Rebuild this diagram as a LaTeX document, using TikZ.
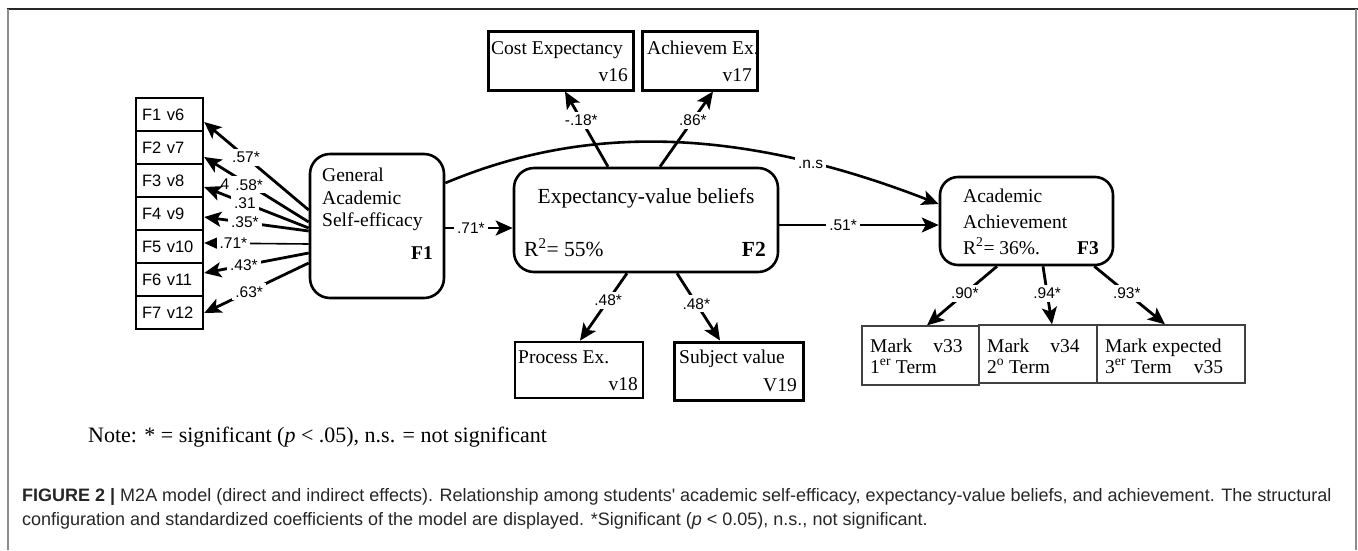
\documentclass[tikz,border=0pt]{standalone}
\usepackage{fontspec}
\setmainfont{Liberation Serif}
\newfontfamily\lsans{Liberation Sans}
\usetikzlibrary{arrows.meta}
\tikzset{
  fr/.style={draw, line width=2.6pt, inner sep=0pt},
  rbox/.style={fr, rounded corners=20pt},
  obox/.style={fr, line width=3pt},
  ibox/.style={draw, line width=2.4pt, minimum width=67pt, minimum height=33pt, inner sep=0pt, text width=55pt, align=left, font=\lsans\fontsize{16.5}{19}\selectfont},
  mbox/.style={draw=black!75, line width=1.3pt, inner sep=0pt},
  ser/.style={font=\fontsize{19.5}{22}\selectfont, inner sep=0pt},
  serl/.style={ser, anchor=base west},
  serr/.style={ser, anchor=base east},
  big/.style={font=\fontsize{21.5}{25}\selectfont, inner sep=0pt},
  coef/.style={font=\lsans\fontsize{15.5}{18}\selectfont, fill=white, inner sep=3pt, text height=11pt, text depth=0pt},
  arr/.style={line width=2.8pt, -{Stealth[length=17pt,width=15pt,inset=4pt]}},
}
\begin{document}
\begin{tikzpicture}[x=1pt,y=-1pt]
\useasboundingbox (0,0) rectangle (1358,550);
% frame
\draw[line width=1.5pt, black!85] (7,9) -- (1358,9);
\draw[line width=2pt, black!45] (8,9) -- (8,550);
\draw[line width=2pt, black!45] (1356,9) -- (1356,550);

% indicator boxes
\node[ibox] (i1) at (169.5,114.5) {F1 v6};
\node[ibox] (i2) at (169.5,147.5) {F2 v7};
\node[ibox] (i3) at (169.5,180.5) {F3 v8};
\node[ibox] (i4) at (169.5,213.5) {F4 v9};
\node[ibox] (i5) at (169.5,246.5) {F5 v10};
\node[ibox] (i6) at (169.5,279.5) {F6 v11};
\node[ibox] (i7) at (169.5,312.5) {F7 v12};

% latent boxes
\node[rbox, minimum width=134pt, minimum height=144pt] (gase) at (377,226) {};
\node[rbox, minimum width=264pt, minimum height=104pt] (f2) at (646,220) {};
\node[rbox, minimum width=173pt, minimum height=88pt, rounded corners=18pt] (f3) at (1026.5,221) {};

% observed boxes
\node[obox, minimum width=145pt, minimum height=59pt] (cost) at (560.5,60.5) {};
\node[obox, minimum width=115pt, minimum height=59pt] (ach) at (699.5,60.5) {};
\node[fr, minimum width=128pt, minimum height=56pt] (proc) at (579,370) {};
\node[obox, minimum width=129pt, minimum height=58pt] (subj) at (738.5,371) {};
\node[mbox, minimum width=117pt, minimum height=59pt] (m1) at (920.5,355.5) {};
\node[mbox, minimum width=118pt, minimum height=58pt] (m2) at (1038,354) {};
\node[mbox, minimum width=148pt, minimum height=58pt] (m3) at (1171,354) {};

% texts
\node[serl] (g1) at (322,181.5) {General};
\node[serl] (g2) at (322,204.5) {Academic};
\node[serl] (g3) at (322,226.5) {Self-efficacy};
\node[serr] (g4) at (433,259.5) {\textbf{F1}};
\node[big, anchor=base] (e1) at (646,203.5) {Expectancy-value beliefs};
\node[big, anchor=base west] (e2) at (524,256) {R\textsuperscript{2}= 55\%};
\node[big, anchor=base east] (e3) at (766,256) {\textbf{F2}};
\node[serl] (a1) at (963,202.5) {Academic};
\node[serl] (a2) at (963,228.5) {Achievement};
\node[serl] (a3) at (963,254.5) {R\textsuperscript{2}= 36\%.};
\node[serr] (a4) at (1099,254.5) {\textbf{F3}};
\node[serl] (c1) at (491,54.5) {Cost Expectancy};
\node[serr] (c2) at (628,81.5) {v16};
\node[serl] (h1) at (647,54.5) {Achievem Ex.};
\node[serr] (h2) at (752,81.5) {v17};
\node[serl] (p1) at (518,363.5) {Process Ex.};
\node[serr] (p2) at (638,390.5) {v18};
\node[serl] (s1) at (679,363.5) {Subject value};
\node[serr] (s2) at (797,391) {V19};
\node[serl] (k1) at (870,352) {Mark\hspace*{21pt}v33};
\node[serl] (k2) at (870,373) {1\textsuperscript{er} Term};
\node[serl] (k3) at (987,352) {Mark\hspace*{21pt}v34};
\node[serl] (k4) at (987,373) {2\textsuperscript{o} Term};
\node[serl] (k5) at (1105,352) {Mark expected};
\node[serl] (k6) at (1105,373) {3\textsuperscript{er} Term\hspace*{22pt}v35};

% loadings of F1
\draw[arr] ([yshift=16pt]gase.west) -- node[coef,pos=.6]{.57*} ([yshift=-7.5pt]i1.east);
\draw[arr] ([yshift=4pt]gase.west) -- node[coef,pos=.57]{.58*} ([yshift=-9.5pt]i2.east);
\draw[arr] ([yshift=-2pt]gase.west) -- node[coef,pos=.61]{.31} ([yshift=-6.5pt]i3.east);
\draw[arr] ([yshift=-5pt]gase.west) -- node[coef,pos=.61]{.35*} ([yshift=-3.5pt]i4.east);
\draw[arr, line width=1.6pt] ([yshift=-18pt]gase.west) -- node[coef,pos=.72]{.71*} ([yshift=3.5pt]i5.east);
\draw[arr] ([yshift=-27pt]gase.west) -- node[coef,pos=.62]{.43*} ([yshift=6.5pt]i6.east);
\draw[arr] ([yshift=-37pt]gase.west) -- node[coef,pos=.57]{.63*} ([yshift=-0.5pt]i7.east);
\node[coef, fill=none, inner sep=0pt] (stray) at (225,184) {4};

% structural paths
\draw[arr] ([yshift=-2pt]gase.east) -- node[coef,pos=.38]{.71*} ([yshift=-8pt]f2.west);
\draw[arr, line width=2pt] ([yshift=-5pt]f2.east) -- node[coef,pos=.4]{.51*} ([yshift=-4pt]f3.west);
\draw[arr, line width=2.6pt] ([yshift=43pt]gase.east) .. controls (560,135) and (710,115) .. node[coef,pos=.8]{.n.s} ([yshift=17pt]f3.west);

% loadings of F2
\draw[arr] ([xshift=-38pt]f2.north) -- node[coef,pos=.62]{-.18*} ([xshift=4.5pt]cost.south);
\draw[arr] ([xshift=14pt]f2.north) -- node[coef,pos=.62]{.86*} ([xshift=13.5pt]ach.south);
\draw[arr] ([xshift=-19pt]f2.south) -- node[coef,pos=.4]{.48*} ([xshift=1pt]proc.north);
\draw[arr] ([xshift=31pt]f2.south) -- node[coef,pos=.45]{.48*} ([xshift=-18.5pt]subj.north);

% loadings of F3
\draw[arr] ([xshift=-29.5pt]f3.south) -- node[coef,pos=.46]{.90*} ([xshift=6.5pt]m1.north);
\draw[arr] ([xshift=16.5pt]f3.south) -- node[coef,pos=.46]{.94*} ([xshift=14pt]m2.north);
\draw[arr] ([xshift=-20pt]f3.south east) -- node[coef,pos=.46]{.93*} ([xshift=-6pt]m3.north);

% note and caption
\node[anchor=base west, inner sep=0pt, font=\fontsize{22}{25}\selectfont] (note) at (88,442) {Note: * = significant (\textit{p} < .05), n.s. = not significant};
\node[anchor=north west, inner sep=0pt, align=left, text=black!85, font=\lsans\fontsize{18}{24}\selectfont] (cap) at (22,488) {\textbf{FIGURE 2 |} M2A model (direct and indirect effects). Relationship among students' academic self-efficacy, expectancy-value beliefs, and achievement. The structural\\configuration and standardized coefficients of the model are displayed. *Significant (\textit{p} < 0.05), n.s., not significant.};
\end{tikzpicture}
\end{document}
